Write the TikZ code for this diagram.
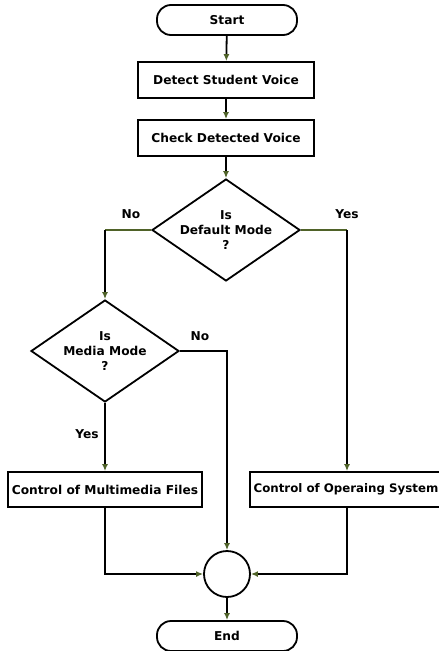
\documentclass[tikz,border=0pt]{standalone}
\usepackage{fontspec}
\setmainfont{DejaVu Sans}
\usetikzlibrary{shapes.geometric,arrows.meta}
\definecolor{flowgreen}{RGB}{79,98,40}
\tikzset{
  base/.style={draw=black, line width=1.8pt, font=\fontsize{12.2}{15}\selectfont\bfseries, align=center, inner sep=0pt},
  terminal/.style={base, rectangle, rounded corners=14pt, minimum width=140pt, minimum height=30pt},
  process/.style={base, rectangle, minimum width=176pt, minimum height=36pt},
  wideprocess/.style={base, rectangle, minimum width=194pt, minimum height=35pt},
  decision/.style={base, diamond, aspect=1.45, inner sep=-3pt, minimum width=148pt, minimum height=102pt},
  junction/.style={base, circle, minimum size=46pt},
  flow/.style={line width=1.8pt, draw=black},
  arrowflow/.style={flow, -{Latex[length=7pt,width=6pt,color=flowgreen]}},
  greenflow/.style={line width=1.8pt, draw=flowgreen},
  branchlabel/.style={font=\fontsize{12.2}{14}\selectfont\bfseries, inner sep=0pt}
}
\begin{document}
\begin{tikzpicture}[x=1pt, y=-1pt]
  \useasboundingbox (0,0) rectangle (439,651);
  \clip (0,0) rectangle (439,651);

  % main column
  \node[terminal] (start) at (227,20) {Start};
  \node[process] (detect) at (226,80) {Detect Student Voice};
  \node[process] (check) at (226,138) {Check Detected Voice};
  \node[decision] (defmode) at (226,230) {Is\\Default Mode\\?};
  \node[decision] (media) at (105,351) {Is\\Media Mode\\?};
  \node[wideprocess] (mmfiles) at (105,489.5) {Control of Multimedia Files};
  \node[wideprocess] (ossys) at (347,489.5) {};
  \node[font=\fontsize{11.8}{14}\selectfont\bfseries, inner sep=0pt] (ostext) at (346,489.5) {Control of Operaing System};
  \node[junction] (merge) at (227,574) {};
  \node[terminal] (finish) at (227,636) {End};

  % branch labels
  \node[branchlabel] (lblno1) at (131,214) {No};
  \node[branchlabel] (lblyes1) at (347,214) {Yes};
  \node[branchlabel] (lblno2) at (200,336) {No};
  \node[branchlabel] (lblyes2) at (87,434) {Yes};

  % straight connectors
  \draw[arrowflow] (start) -- (detect);
  \draw[arrowflow] (detect) -- (check);
  \draw[arrowflow] (check) -- (defmode);

  % default mode branches
  \coordinate (turnno) at (defmode.west -| media.north);
  \coordinate (turnyes) at (defmode.east -| ossys.north);
  \draw[greenflow] (defmode.west) -- (turnno);
  \draw[greenflow] (defmode.east) -- (turnyes);
  \draw[arrowflow] (turnno) -- (media.north);
  \draw[arrowflow] (turnyes) -- (ossys.north);

  % media mode branches
  \draw[arrowflow] (media.south) -- (mmfiles.north);
  \draw[arrowflow] (media.east) -| (merge.north);

  % joining into the merge point
  \draw[arrowflow] (mmfiles.south) |- (merge.west);
  \draw[arrowflow] (ossys.south) |- (merge.east);
  \draw[arrowflow] (merge) -- (finish);
\end{tikzpicture}
\end{document}
